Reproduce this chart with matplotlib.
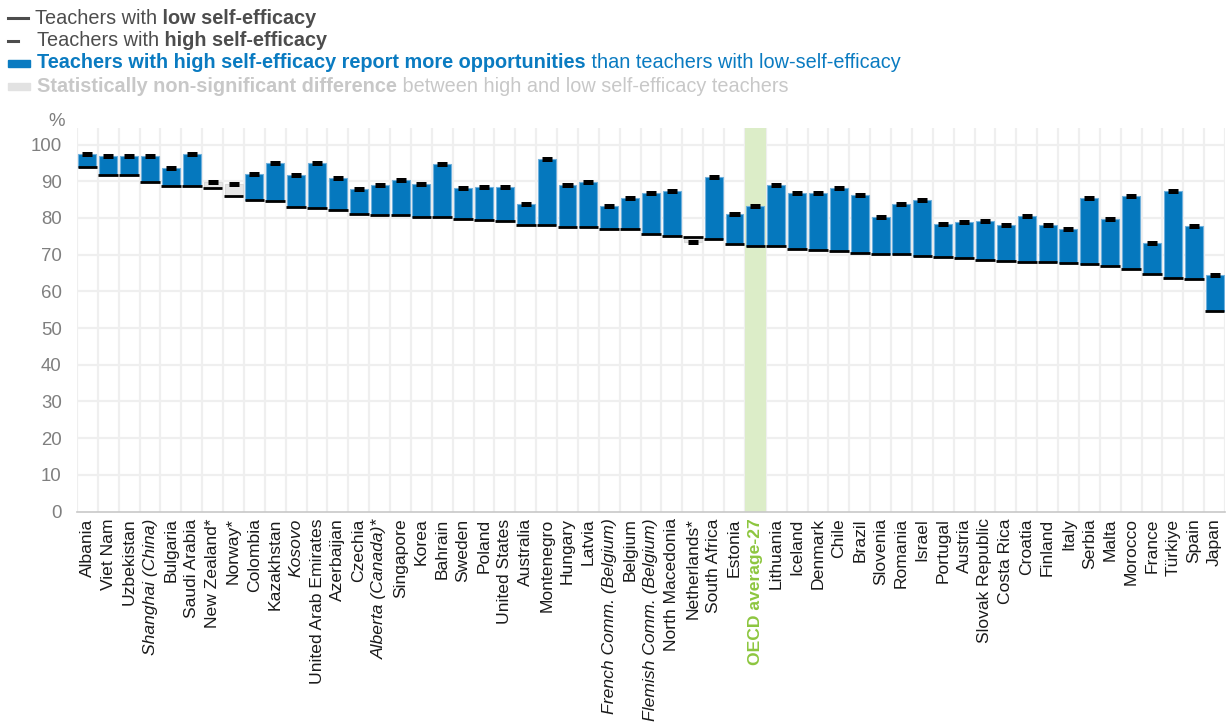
import matplotlib
matplotlib.use("Agg")
import matplotlib.pyplot as plt
from matplotlib.patches import Rectangle
import numpy as np

plt.rcParams["font.family"] = ["Liberation Sans", "DejaVu Sans"]

countries = [
    "Albania", "Viet Nam", "Uzbekistan", "Shanghai (China)", "Bulgaria", "Saudi Arabia",
    "New Zealand*", "Norway*", "Colombia", "Kazakhstan", "Kosovo", "United Arab Emirates",
    "Azerbaijan", "Czechia", "Alberta (Canada)*", "Singapore", "Korea", "Bahrain",
    "Sweden", "Poland", "United States", "Australia", "Montenegro", "Hungary", "Latvia",
    "French Comm. (Belgium)", "Belgium", "Flemish Comm. (Belgium)", "North Macedonia",
    "Netherlands*", "South Africa", "Estonia", "OECD average-27", "Lithuania", "Iceland",
    "Denmark", "Chile", "Brazil", "Slovenia", "Romania", "Israel", "Portugal", "Austria",
    "Slovak Republic", "Costa Rica", "Croatia", "Finland", "Italy", "Serbia", "Malta",
    "Morocco", "France", "Türkiye", "Spain", "Japan",
]

# share of teachers (%) by self-efficacy level
low_efficacy = [
    93.9, 91.6, 91.6, 89.8, 88.8, 88.6, 88.1, 86.0, 84.9, 84.5,
    83.0, 82.8, 82.2, 81.0, 80.8, 80.7, 80.2, 80.2, 79.8, 79.4,
    79.1, 78.2, 78.2, 77.6, 77.4, 77.1, 76.9, 75.7, 75.1, 74.8,
    74.3, 73.0, 72.3, 72.3, 71.5, 71.3, 71.1, 70.4, 70.2, 70.2,
    69.7, 69.3, 69.1, 68.5, 68.3, 68.1, 68.0, 67.7, 67.5, 67.0,
    66.1, 64.6, 63.7, 63.3, 54.7,
]
high_efficacy = [
    97.5, 96.9, 96.9, 96.9, 93.5, 97.3, 89.9, 89.2, 92.0, 94.9,
    91.7, 94.9, 90.9, 88.0, 88.9, 90.3, 89.2, 94.6, 88.1, 88.5,
    88.3, 83.7, 96.0, 89.0, 89.7, 83.2, 85.3, 86.8, 87.2, 73.5,
    91.1, 81.1, 83.2, 88.9, 86.9, 86.7, 88.1, 86.2, 80.3, 83.9,
    84.8, 78.3, 79.0, 79.2, 78.0, 80.5, 78.1, 77.0, 85.5, 79.7,
    86.0, 73.2, 87.4, 77.9, 64.4,
]
not_significant = ["New Zealand*", "Norway*", "Netherlands*"]
italic_labels = ["Shanghai (China)", "Kosovo", "Alberta (Canada)*",
                 "French Comm. (Belgium)", "Flemish Comm. (Belgium)"]
average_label = "OECD average-27"

BLUE = "#0578be"
GREY_BAR = "#e6e6e6"
GREEN_BAND = "#dcedc8"
GREEN_TEXT = "#8dc63f"
TICK_GREY = "#7f7f7f"

low = np.array(low_efficacy)
high = np.array(high_efficacy)
x = np.arange(len(countries))
colors = [GREY_BAR if c in not_significant else BLUE for c in countries]
edges = ["#d9d9d9" if c in not_significant else "#6fb0dd" for c in countries]

fig = plt.figure(figsize=(12.27, 7.27), dpi=100)
ax = fig.add_axes([77 / 1227, 1 - 511.5 / 727, 1148 / 1227, (511.5 - 128) / 727])

avg_idx = countries.index(average_label)
ax.axvspan(avg_idx - 0.5, avg_idx + 0.5, color=GREEN_BAND, zorder=0.5, lw=0)

ax.bar(x, high - low, bottom=low, width=0.86, color=colors, edgecolor=edges,
       linewidth=0.8, zorder=2)
ax.hlines(low, x - 0.47, x + 0.47, color="black", lw=2.0, zorder=3)
ax.hlines(high, x - 0.24, x + 0.24, color="black", lw=3.6, zorder=4)

ax.set_xlim(-0.5, len(countries) - 0.5)
ax.set_ylim(0, 104.5)
ax.set_yticks(np.arange(0, 101, 10))
ax.set_xticks(x)
ax.set_xticklabels(countries, rotation=90, fontsize=12.6, color="#1a1a1a")
for lbl in ax.get_xticklabels():
    if lbl.get_text() in italic_labels:
        lbl.set_style("italic")
    if lbl.get_text() == average_label:
        lbl.set_color(GREEN_TEXT)
        lbl.set_fontweight("bold")
ax.tick_params(axis="y", labelsize=13.4, labelcolor=TICK_GREY, length=0, pad=11)
ax.tick_params(axis="x", length=0, pad=5)

# light grid: horizontal at every 10 %, vertical between countries
for yv in np.arange(10, 101, 10):
    ax.axhline(yv, color="#efefef", lw=1.6, zorder=0.2)
for xv in np.arange(-0.5, len(countries), 1.0):
    ax.axvline(xv, color="#efefef", lw=1.6, zorder=0.2)
for side in ["top", "right", "left"]:
    ax.spines[side].set_visible(False)
ax.spines["bottom"].set_color("#c8c8c8")
ax.spines["bottom"].set_linewidth(1.2)

fig.text(57 / 1227, 1 - 122 / 727, "%", fontsize=13.4, color=TICK_GREY,
         ha="center", va="center")

# legend block built from text pieces with mixed weights
fig.canvas.draw()
renderer = fig.canvas.get_renderer()


def text_line(x0, y_px, pieces, size=14.3):
    xf = x0 / 1227
    yf = 1 - y_px / 727
    for s, weight, color in pieces:
        t = fig.text(xf, yf, s, fontsize=size, fontweight=weight, color=color,
                     ha="left", va="center")
        bb = t.get_window_extent(renderer)
        xf = bb.x1 / 1227


DARK = "#4d4d4d"
LIGHT = "#c8c8c8"
LEG_BLUE = "#0a7bc1"

fig.lines.append(plt.Line2D([8 / 1227, 28 / 1227], [1 - 18 / 727] * 2,
                            transform=fig.transFigure, color=DARK, lw=2.2))
text_line(35, 18, [("Teachers with", "normal", DARK),
                   (" low self-efficacy", "bold", DARK)])
fig.lines.append(plt.Line2D([8 / 1227, 18 / 1227], [1 - 41 / 727] * 2,
                            transform=fig.transFigure, color=DARK, lw=2.2))
text_line(37, 41, [("Teachers with", "normal", DARK),
                   (" high self-efficacy", "bold", DARK)])
fig.patches.append(Rectangle((8 / 1227, 1 - 67 / 727), 22 / 1227, 7 / 727,
                             transform=fig.transFigure, color=LEG_BLUE))
text_line(37, 63, [("Teachers with high self-efficacy report more opportunities", "bold", LEG_BLUE),
                   (" than teachers with low-self-efficacy", "normal", LEG_BLUE)])
fig.patches.append(Rectangle((8 / 1227, 1 - 90 / 727), 22 / 1227, 7 / 727,
                             transform=fig.transFigure, color="#e2e2e2"))
text_line(37, 86, [("Statistically non-significant difference", "bold", LIGHT),
                   (" between high and low self-efficacy teachers", "normal", LIGHT)])

fig.savefig("out.png", dpi=100)
